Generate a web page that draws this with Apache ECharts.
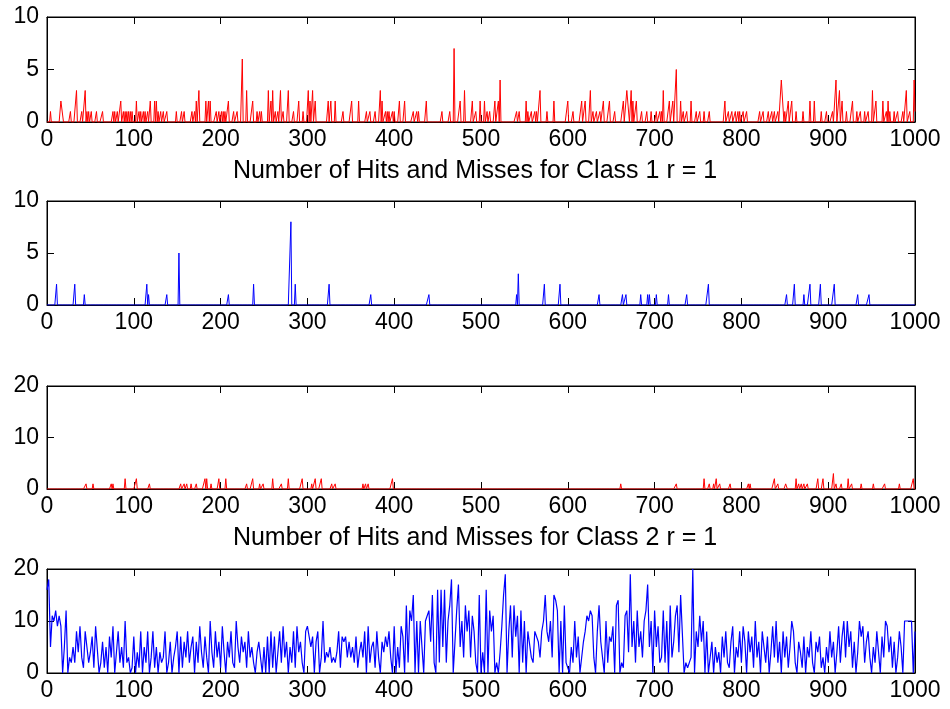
<!DOCTYPE html>
<html>
<head>
<meta charset="utf-8">
<script src="https://cdn.jsdelivr.net/npm/echarts@6/dist/echarts.min.js"></script>
<style>
  html, body { margin: 0; padding: 0; background: #fff; }
  #main { width: 950px; height: 709px; }
</style>
</head>
<body>
<div id="main"></div>
<script>
// x runs 0..1000 on every panel
var xMax = 1000
var xStep = 100

// panel 1: class 1, red (non-zero points only, [x, count])
var class1Red = [
  [4,1],[16,2],[17,2],[18,2],[27,1],[34,3],[40,1],[44,3],[46,1],[48,1],[51,1],[57,1],[64,1],
  [76,1],[78,1],[81,1],[85,2],[88,1],[90,1],[92,1],[94,1],[96,1],[98,1],[103,2],[106,1],[108,1],
  [111,1],[113,1],[116,1],[119,2],[124,2],[126,2],[128,1],[131,1],[134,1],[138,1],[149,1],[155,1],
  [158,1],[167,1],[170,1],[172,2],[175,3],[183,2],[186,2],[188,2],[195,1],[198,1],[201,1],[203,1],
  [205,1],[209,2],[215,1],[219,1],[225,6],[230,3],[237,2],[242,1],[245,1],[247,1],[255,3],[258,2],
  [260,3],[263,1],[266,1],[269,3],[272,1],[278,3],[284,1],[290,2],[295,1],[301,3],[303,2],[306,3],
  [309,2],[324,2],[327,2],[332,2],[341,1],[351,2],[359,2],[368,1],[372,1],[378,1],[384,3],[386,2],
  [390,1],[392,1],[394,1],[398,1],[400,1],[406,2],[412,2],[422,1],[426,1],[428,1],[437,2],[455,1],
  [464,1],[469,7],[476,2],[481,3],[490,2],[494,1],[499,2],[504,2],[507,1],[510,1],[516,2],[520,2],
  [522,4],[541,1],[544,1],[552,2],[554,1],[558,1],[562,1],[564,1],[568,3],[576,1],[584,2],[600,2],
  [606,1],[616,2],[620,2],[626,3],[629,1],[633,1],[637,1],[641,2],[648,2],[654,1],[664,2],[668,3],
  [669,3],[670,3],[673,3],[675,2],[679,2],[685,1],[691,1],[696,1],[702,1],[706,1],[708,1],[710,3],
  [717,2],[721,2],[725,5],[730,2],[733,1],[737,1],[742,2],[748,1],[752,1],[757,1],[763,1],[781,2],
  [785,1],[789,1],[793,1],[796,1],[798,1],[802,1],[806,1],[821,1],[825,1],[831,1],[835,1],[838,1],
  [842,1],[846,4],[847,4],[848,4],[850,1],[854,2],[858,2],[863,1],[871,1],[879,2],[884,2],[892,1],
  [898,1],[905,1],[909,4],[913,3],[916,2],[921,1],[928,2],[933,1],[937,1],[942,1],[946,1],[951,3],
  [955,2],[963,2],[967,1],[969,2],[971,1],[976,1],[980,1],[986,1],[990,3],[994,1],[999,4],[1000,1]
]

// panel 2: class 1, blue
var class1Blue = [
  [11,2],[32,2],[43,1],[115,2],[117,1],[138,1],[152,5],[209,1],[238,2],[281,8],[286,2],[325,2],
  [373,1],[440,1],[541,1],[543,3],[573,2],[591,2],[636,1],[663,1],[667,1],[684,1],[692,1],[694,1],
  [702,1],[716,1],[737,1],[762,2],[852,1],[861,2],[872,1],[879,2],[891,2],[907,2],[934,1],[947,1]
]

// panel 3: class 2, red
var class2Red = [
  [45,1],[53,1],[74,1],[76,1],[90,2],[103,2],[118,1],[154,1],[158,1],[161,1],[166,1],[172,1],
  [182,2],[184,2],[189,1],[198,2],[206,2],[230,1],[237,2],[245,1],[249,1],[260,2],[270,1],[278,2],
  [294,2],[305,1],[309,2],[316,2],[328,1],[332,1],[364,1],[367,1],[370,1],[398,2],[661,1],[725,1],
  [757,2],[763,1],[768,1],[771,2],[775,1],[787,1],[808,1],[810,1],[838,2],[842,1],[851,1],[852,1],
  [863,2],[866,1],[869,1],[872,1],[876,1],[888,2],[894,2],[906,3],[909,1],[915,1],[923,2],[927,1],
  [938,1],[952,1],[965,1],[982,1],[998,2]
]

// panel 4: class 2, blue, read every 2 steps (x = 0, 2, 4 ... 1000)
var class2BlueStep = 2
var class2Blue = [
  16,18,5,11,10,12,9,11,9,0,5,12,0,3,2,5,2,8,4,9,3,1,8,5,2,
  4,7,1,9,9,0,2,6,1,5,0,7,3,9,0,4,8,2,5,1,10,2,3,0,1,
  7,0,4,1,8,0,5,2,8,0,3,8,1,5,0,4,2,3,8,0,2,6,0,3,5,
  8,0,7,1,6,3,8,2,5,7,0,6,2,9,4,1,7,3,0,10,4,1,8,3,6,
  1,9,4,0,6,3,8,2,1,10,5,2,7,4,6,1,8,3,5,2,0,4,6,3,0,
  5,0,7,0,8,1,7,0,4,8,2,9,3,6,0,5,2,8,1,9,4,6,2,0,8,
  9,9,5,7,0,6,8,0,3,10,2,4,3,5,2,3,2,4,8,1,7,6,7,3,6,
  3,5,2,7,1,4,6,3,8,0,9,2,5,6,1,8,3,0,6,4,7,5,8,3,0,
  9,0,5,1,9,7,0,13,2,12,10,15,0,10,0,10,10,0,10,11,12,6,15,2,0,
  16,2,16,5,16,2,10,13,18,0,0,12,17,5,10,3,13,8,12,3,11,8,2,0,15,
  0,4,0,16,0,12,8,11,0,2,0,4,9,15,19,0,8,13,3,13,7,11,0,12,2,
  10,0,8,8,3,2,8,8,6,3,8,10,15,8,6,10,3,15,14,12,0,10,0,13,2,
  2,0,5,2,10,3,7,0,0,6,8,11,10,12,11,3,0,8,13,6,3,0,10,2,7,
  6,9,0,13,14,0,2,1,11,12,4,19,5,10,2,12,5,8,3,10,12,17,5,10,0,
  12,5,9,2,3,12,2,10,0,13,3,6,11,13,4,15,15,0,2,1,2,3,20,0,8,
  5,11,6,10,0,8,0,3,6,0,5,2,4,0,7,3,8,2,1,6,9,0,5,3,8,
  2,9,6,0,8,4,7,1,10,3,6,0,8,5,2,7,0,4,9,3,10,2,6,0,8,
  3,7,1,5,10,8,2,0,6,4,1,7,0,5,3,8,2,0,6,4,7,1,3,0,5,
  2,8,3,6,0,4,9,2,7,10,3,10,5,8,1,6,0,4,10,7,9,2,6,8,3,
  0,5,2,8,4,0,7,3,10,9,4,7,1,6,0,3,8,5,0,10,10,10,10,10,0,
  8
]

var yMaxes = [10, 10, 20, 20]
var ySteps = [5, 5, 10, 10]
var titles = ['Number of Hits and Misses for Class 1 r = 1', 'Number of Hits and Misses for Class 2 r = 1']

var font = 'Liberation Sans, Arial, Helvetica, sans-serif'
var gridTops = [17, 201, 386, 569]
var gridHeights = [105, 104, 103, 104]
var lineWidths = [1, 1, 1, 1.2]

// sparse lists -> full 0..1000 series
function fillSparse(list) {
  var arr = []
  for (var i = 0; i <= xMax; i++) arr.push([i, 0])
  for (var k = 0; k < list.length; k++) {
    arr[list[k][0]][1] = list[k][1]
  }
  return arr
}
function stepSeries(vals, step) {
  var arr = []
  for (var i = 0; i < vals.length; i++) arr.push([i * step, vals[i]])
  return arr
}
function plain(v) { return String(v) }  // no 1,000

var seriesData = [
  { data: fillSparse(class1Red), color: '#ff0000' },
  { data: fillSparse(class1Blue), color: '#0000ff' },
  { data: fillSparse(class2Red), color: '#ff0000' },
  { data: stepSeries(class2Blue, class2BlueStep), color: '#0000ff' }
]

var grids = [], xAxes = [], yAxes = [], series = []
var tick = { inside: true, length: 7, lineStyle: { color: '#000', width: 1 } }
var line = { show: true, onZero: false, lineStyle: { color: '#000', width: 1 } }

for (var i = 0; i < 4; i++) {
  grids.push({
    left: 47, width: 868, top: gridTops[i], height: gridHeights[i],
    containLabel: false, outerBoundsMode: 'none',
    show: true, borderColor: '#000', borderWidth: 1
  })
  xAxes.push({
    gridIndex: i, type: 'value', position: 'bottom', min: 0, max: xMax, interval: xStep,
    axisLine: line, axisTick: tick, splitLine: { show: false },
    axisLabel: { color: '#000', fontSize: 23, fontFamily: font, margin: 6, formatter: plain }
  })
  xAxes.push({
    gridIndex: i, type: 'value', position: 'top', min: 0, max: xMax, interval: xStep,
    axisLine: line, axisTick: tick, splitLine: { show: false }, axisLabel: { show: false }
  })
  yAxes.push({
    gridIndex: i, type: 'value', position: 'left', min: 0, max: yMaxes[i], interval: ySteps[i],
    axisLine: line, axisTick: tick, splitLine: { show: false },
    axisLabel: { color: '#000', fontSize: 23, fontFamily: font, margin: 8, formatter: plain }
  })
  yAxes.push({
    gridIndex: i, type: 'value', position: 'right', min: 0, max: yMaxes[i], interval: ySteps[i],
    axisLine: line, axisTick: tick, splitLine: { show: false }, axisLabel: { show: false }
  })
  series.push({
    type: 'line', xAxisIndex: i * 2, yAxisIndex: i * 2,
    data: seriesData[i].data, showSymbol: false, symbol: 'none', sampling: null,
    lineStyle: { color: seriesData[i].color, width: lineWidths[i] },
    itemStyle: { color: seriesData[i].color },
    z: 3, silent: true
  })
}

var chart = echarts.init(document.getElementById('main'), null, { renderer: 'canvas' })
chart.setOption({
  animation: false,
  backgroundColor: '#fff',
  title: [
    { text: titles[0], left: 'center', top: 154, textStyle: { color: '#000', fontSize: 25, fontWeight: 'normal', fontFamily: font } },
    { text: titles[1], left: 'center', top: 521, textStyle: { color: '#000', fontSize: 25, fontWeight: 'normal', fontFamily: font } }
  ],
  grid: grids,
  xAxis: xAxes,
  yAxis: yAxes,
  series: series
})
</script>
</body>
</html>
